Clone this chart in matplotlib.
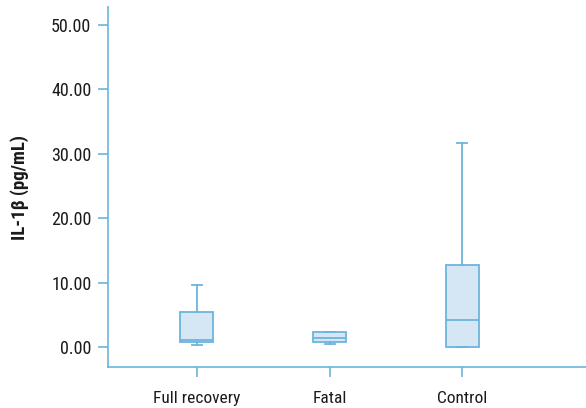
import matplotlib
matplotlib.use("Agg")
import matplotlib.pyplot as plt

categories = ["Full recovery", "Fatal", "Control"]
whislo = [0.31, 0.47, 0.0]
q1 = [0.73, 0.73, 0.0]
med = [1.09, 1.44, 4.14]
q3 = [5.39, 2.28, 12.78]
whishi = [9.58, 2.28, 31.7]
yticks = [0, 10, 20, 30, 40, 50]

plt.rcParams['font.family'] = ['Roboto Condensed', 'Asap Condensed', 'Archivo Narrow', 'DejaVu Sans']
edge = '#6cb4dc'
fill = '#d5e6f4'

fig = plt.figure(figsize=(5.86, 4.08), dpi=100)
ax = fig.add_axes([108/586, 1 - 367/408, 1 - 108/586, (367 - 7)/408])

stats = []
for i, c in enumerate(categories):
    stats.append(dict(label=c, whislo=whislo[i], q1=q1[i], med=med[i],
                      q3=q3[i], whishi=whishi[i], fliers=[]))
ax.bxp(stats, positions=[1, 2, 3], widths=0.25, capwidths=0.075,
       patch_artist=True, showfliers=False,
       boxprops=dict(facecolor=fill, edgecolor=edge, linewidth=1.3),
       medianprops=dict(color=edge, linewidth=1.3),
       whiskerprops=dict(color=edge, linewidth=1.3),
       capprops=dict(color=edge, linewidth=1.3))

ax.set_xlim(1 - 89/133, 3 + 124/133)
ax.set_ylim(-3.1, 52.8)
ax.set_yticks(yticks)
ax.set_yticklabels([f"{v:.2f}" for v in yticks])
ax.set_xticks([1, 2, 3])
ax.set_xticklabels(categories)
for s in ['top', 'right']:
    ax.spines[s].set_visible(False)
for s in ['left', 'bottom']:
    ax.spines[s].set_color(edge)
    ax.spines[s].set_linewidth(1.2)
ax.tick_params(axis='both', colors=edge, length=7, width=1.2, labelcolor='#1a1a1a')
ax.tick_params(axis='x', pad=10, labelsize=12.5)
ax.tick_params(axis='y', pad=5, labelsize=13)
ax.set_ylabel("IL-1β (pg/mL)", fontsize=13.5, fontweight='bold', color='#1a1a1a', labelpad=16)

fig.savefig("out.png", dpi=100)
